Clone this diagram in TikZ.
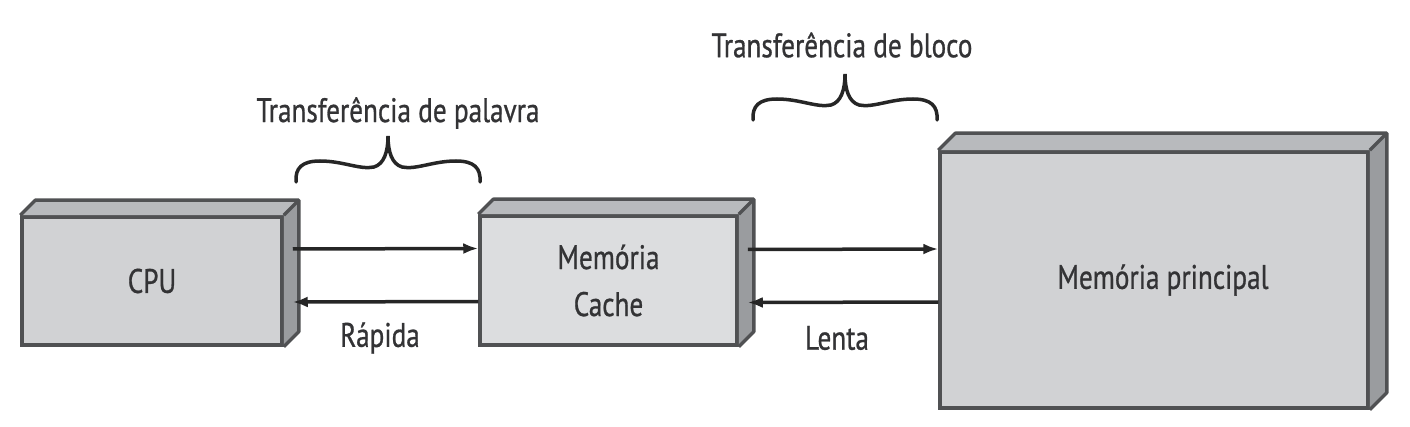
\documentclass[tikz,border=0pt]{standalone}
\usepackage{fontspec}
\setmainfont{PT Sans}[FakeStretch=0.8,FakeBold=0.8]
\usetikzlibrary{arrows.meta,calc}
\definecolor{frontc}{HTML}{D1D2D4}
\definecolor{frontl}{HTML}{DCDDDF}
\definecolor{topc}{HTML}{B8BABD}
\definecolor{sidec}{HTML}{9A9C9F}
\definecolor{edgec}{HTML}{505153}
\definecolor{txtc}{HTML}{333335}
\tikzset{
  box/.style={draw=edgec, line width=3.5pt, fill=frontc, inner sep=0pt, text=txtc, align=center},
  face/.style={draw=edgec, line width=3.5pt, line join=round},
  lbl/.style={text=txtc, inner sep=0pt},
  conn/.style={line width=3.5pt, draw=black!85, -{Latex[length=15pt,width=11pt]}},
  brc/.style={line width=3.5pt, draw=black!85, line cap=round},
  pics/curlybrace/.style={code={
    \draw[brc] (-92,0) .. controls (-93,-14) and (-86,-21) .. (-68,-21)
      .. controls (-45,-21) and (-28,-12) .. (-14,-15)
      .. controls (-4,-18) and (0,-30) .. (0,-46)
      .. controls (0,-30) and (4,-18) .. (14,-15)
      .. controls (28,-12) and (45,-21) .. (68,-21)
      .. controls (86,-21) and (93,-14) .. (92,0);
  }}
}
\newcommand{\depthfaces}[2]{%
  \fill[topc] (#1.north west) -- ++(#2,-#2) -- ($(#1.north east)+(#2,-#2)$) -- (#1.north east) -- cycle;
  \fill[sidec] (#1.north east) -- ++(#2,-#2) -- ($(#1.south east)+(#2,-#2)$) -- (#1.south east) -- cycle;
  \draw[face] (#1.north west) -- ++(#2,-#2) -- ($(#1.north east)+(#2,-#2)$) -- ($(#1.south east)+(#2,-#2)$) -- (#1.south east);
  \draw[face] (#1.north east) -- ++(#2,-#2);
}
\begin{document}
\begin{tikzpicture}[x=1pt,y=-1pt,font=\fontsize{34}{47}\selectfont]
\useasboundingbox (0,0) rectangle (1410,427);
% boxes
\node[box, minimum width=260pt, minimum height=128pt] (cpu) at (152,281) {CPU};
\node[box, fill=frontl, minimum width=257pt, minimum height=129pt] (cache) at (608.5,280.5) {Memória\\Cache};
\node[box, minimum width=428pt, minimum height=256pt] (main) at (1154,280) {\hspace*{18pt}Memória principal};
\depthfaces{cpu}{15}
\depthfaces{cache}{15}
\depthfaces{main}{17}
% connectors
\draw[conn] ([xshift=9pt,yshift=32pt]cpu.east) -- ([yshift=32pt]cache.west);
\draw[conn] ([yshift=-21pt]cache.west) -- ([xshift=9pt,yshift=-21pt]cpu.east);
\draw[conn] ([xshift=9pt,yshift=31pt]cache.east) -- ([yshift=31pt]main.west);
\draw[conn] ([yshift=-22pt]main.west) -- ([xshift=9pt,yshift=-22pt]cache.east);
% labels
\node[lbl] (rapida) at (380,338) {Rápida};
\node[lbl] (lenta) at (837,338) {Lenta};
\node[lbl] (tpal) at (398,113) {Transferência de palavra};
\node[lbl] (tblo) at (842,45) {Transferência de bloco};
% braces
\pic at (388,182) {curlybrace};
\pic at (845,120) {curlybrace};
\end{tikzpicture}
\end{document}
